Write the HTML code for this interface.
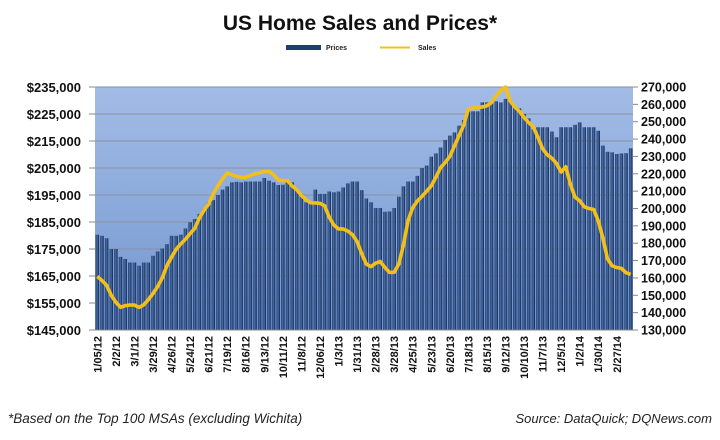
<!DOCTYPE html>
<html><head><meta charset="utf-8"><style>
html,body{margin:0;padding:0;background:#fff;}
svg{display:block;font-family:"Liberation Sans",sans-serif;}
</style></head><body>
<svg id="chart" width="720" height="440" viewBox="0 0 720 440">
<defs>
<linearGradient id="bg" x1="0" y1="0" x2="0" y2="1"><stop offset="0" stop-color="#a3bce6"/><stop offset="1" stop-color="#7296d0"/></linearGradient>
<linearGradient id="bar" x1="0" y1="0" x2="1" y2="0"><stop offset="0" stop-color="#1e3e72"/><stop offset="0.45" stop-color="#4a6da6"/><stop offset="1" stop-color="#0f2448"/></linearGradient>
</defs>
<rect x="0" y="0" width="720" height="440" fill="#fff"/>
<text x="360" y="30" text-anchor="middle" font-size="21" font-weight="bold" fill="#111">US Home Sales and Prices*</text>
<g>
<rect x="286" y="45" width="35" height="5" fill="#1f3d6e"/>
<text x="326" y="50" font-size="7" font-weight="bold" fill="#222">Prices</text>
<line x1="380" y1="47.5" x2="410" y2="47.5" stroke="#f2c21b" stroke-width="2"/>
<text x="418" y="50" font-size="7" font-weight="bold" fill="#222">Sales</text>
</g>
<rect x="95" y="87" width="538" height="243" fill="url(#bg)"/>
<g id="grid"></g><g id="bars"></g><g id="line"></g><g id="axes"></g>
<text x="8" y="423" font-size="13.5" font-style="italic" fill="#222">*Based on the Top 100 MSAs (excluding Wichita)</text>
<text x="712" y="423" text-anchor="end" font-size="13" font-style="italic" fill="#222">Source: DataQuick; DQNews.com</text>
</svg>
<script>
const prices=[180.3,179.9,179.0,175.0,175.0,172.1,171.3,170.0,170.0,168.8,170.0,170.0,172.5,174.1,175.2,176.8,179.9,179.9,180.3,182.6,184.9,186.1,188.0,189.8,192.3,193.1,195.0,197.0,198.2,199.7,199.9,199.7,200.0,200.0,200.0,200.0,201.3,200.3,199.7,198.7,198.8,200.3,199.7,196.6,195.4,192.3,192.0,197.0,195.4,195.4,196.3,196.0,196.3,197.8,199.3,200.0,200.0,196.8,193.7,
192.3,190.2,190.2,188.8,188.9,190.2,194.4,198.2,200.0,200.0,202.1,205.0,205.9,209.2,210.4,212.6,215.4,217.0,218.2,220.7,222.8,226.0,226.0,226.0,229.3,229.3,229.3,229.7,229.3,230.6,229.7,227.5,227.1,225.0,223.4,219.4,220.1,220.1,220.1,218.5,216.4,220.1,220.1,220.1,221.0,221.9,220.1,220.1,220.1,218.8,213.3,211.0,210.8,210.2,210.4,210.5,212.3];
const sales=[160.9,158.5,155.8,150,146,143.1,144,144.4,144.4,143,144.5,147.5,151,155,160,167,172,176.5,179.6,182.3,185.5,188.5,194.5,199,202.5,208.5,213,217,220.5,219.5,218.5,218,218,219,220,220.6,221.3,221.5,219.5,216.5,216,216,213,210.8,207.5,205,203.3,203.2,203,201.6,195,190.5,188.2,188.2,187,185,181,174,168,
166.5,168.5,169.5,166,163.2,163.2,168,179,193,200.5,204.3,207,210,213,218,223.5,226.5,230,236,242,248,257.3,258,258.3,258.5,259.2,261,265,268,270,262,258.5,256,252.5,249.5,247,241,234.5,231,229,226,221,224,214,206.5,204.5,201,200,199.5,193,183,171,167,166,165.5,163,162];
const xLabels=["1/05/12","2/2/12","3/1/12","3/29/12","4/26/12","5/24/12","6/21/12","7/19/12","8/16/12","9/13/12","10/11/12","11/8/12","12/06/12","1/3/13","1/31/13","2/28/13","3/28/13","4/25/13","5/23/13","6/20/13","7/18/13","8/15/13","9/12/13","10/10/13","11/7/13","12/5/13","1/2/14","1/30/14","2/27/14"];
const leftTicks=[145,155,165,175,185,195,205,215,225,235];
const rightTicks=[130,140,150,160,170,180,190,200,210,220,230,240,250,260,270];
const NS="http://www.w3.org/2000/svg";
const L=95,R=633,T=87,B=330;
const n=prices.length, bw=(R-L)/n;
const xC=i=>L+bw*(i+0.5);
const yL=v=>B-(v-145)/(235-145)*(B-T);
const yR=v=>B-(v-130)/(270-130)*(B-T);
function mk(tag,attrs,parent){const e=document.createElementNS(NS,tag);for(const k in attrs)e.setAttribute(k,attrs[k]);document.getElementById(parent).appendChild(e);return e;}
leftTicks.forEach(v=>{
  const g=mk('line',{x1:L,x2:R,y1:yL(v),y2:yL(v),stroke:'#8a909c','stroke-width':1},'grid');
  
  
  const tk=mk('line',{x1:L-6,x2:L,y1:yL(v),y2:yL(v),stroke:'#888'},'axes');
  
  
  const t=mk('text',{x:81,y:yL(v)+5,'text-anchor':'end','font-size':13,'font-weight':'bold',fill:'#111'},'axes');
  t.textContent='$'+v+',000';
  
  
});
rightTicks.forEach(v=>{
  const tk=mk('line',{x1:R,x2:R+5,y1:yR(v),y2:yR(v),stroke:'#888'},'axes');
  
  
  const t=mk('text',{x:641,y:yR(v)+4.5,'font-size':12.5,'font-weight':'bold',fill:'#111'},'axes');
  t.textContent=v+',000';
  
  
});
prices.forEach((v,i)=>{
  const b=mk('rect',{x:xC(i)-bw*0.38,y:yL(v),width:bw*0.76,height:B-yL(v),fill:'url(#bar)'},'bars');
  
  
});
const p=mk('polyline',{points:sales.map((v,i)=>xC(i)+','+yR(v)).join(' '),fill:'none',stroke:'#f3c01a','stroke-width':3.6,'stroke-linejoin':'round'},'line');


const ax=mk('line',{x1:L,x2:R,y1:B,y2:B,stroke:'#888'},'axes');


xLabels.forEach((s,k)=>{
  const x=xC(k*4);
  const t=mk('text',{x:0,y:0,'text-anchor':'end','font-size':11,'font-weight':'bold',fill:'#111',transform:`translate(${x+4},336) rotate(-90)`},'axes');
  t.textContent=s;
  
  
});
</script>
</body></html>
